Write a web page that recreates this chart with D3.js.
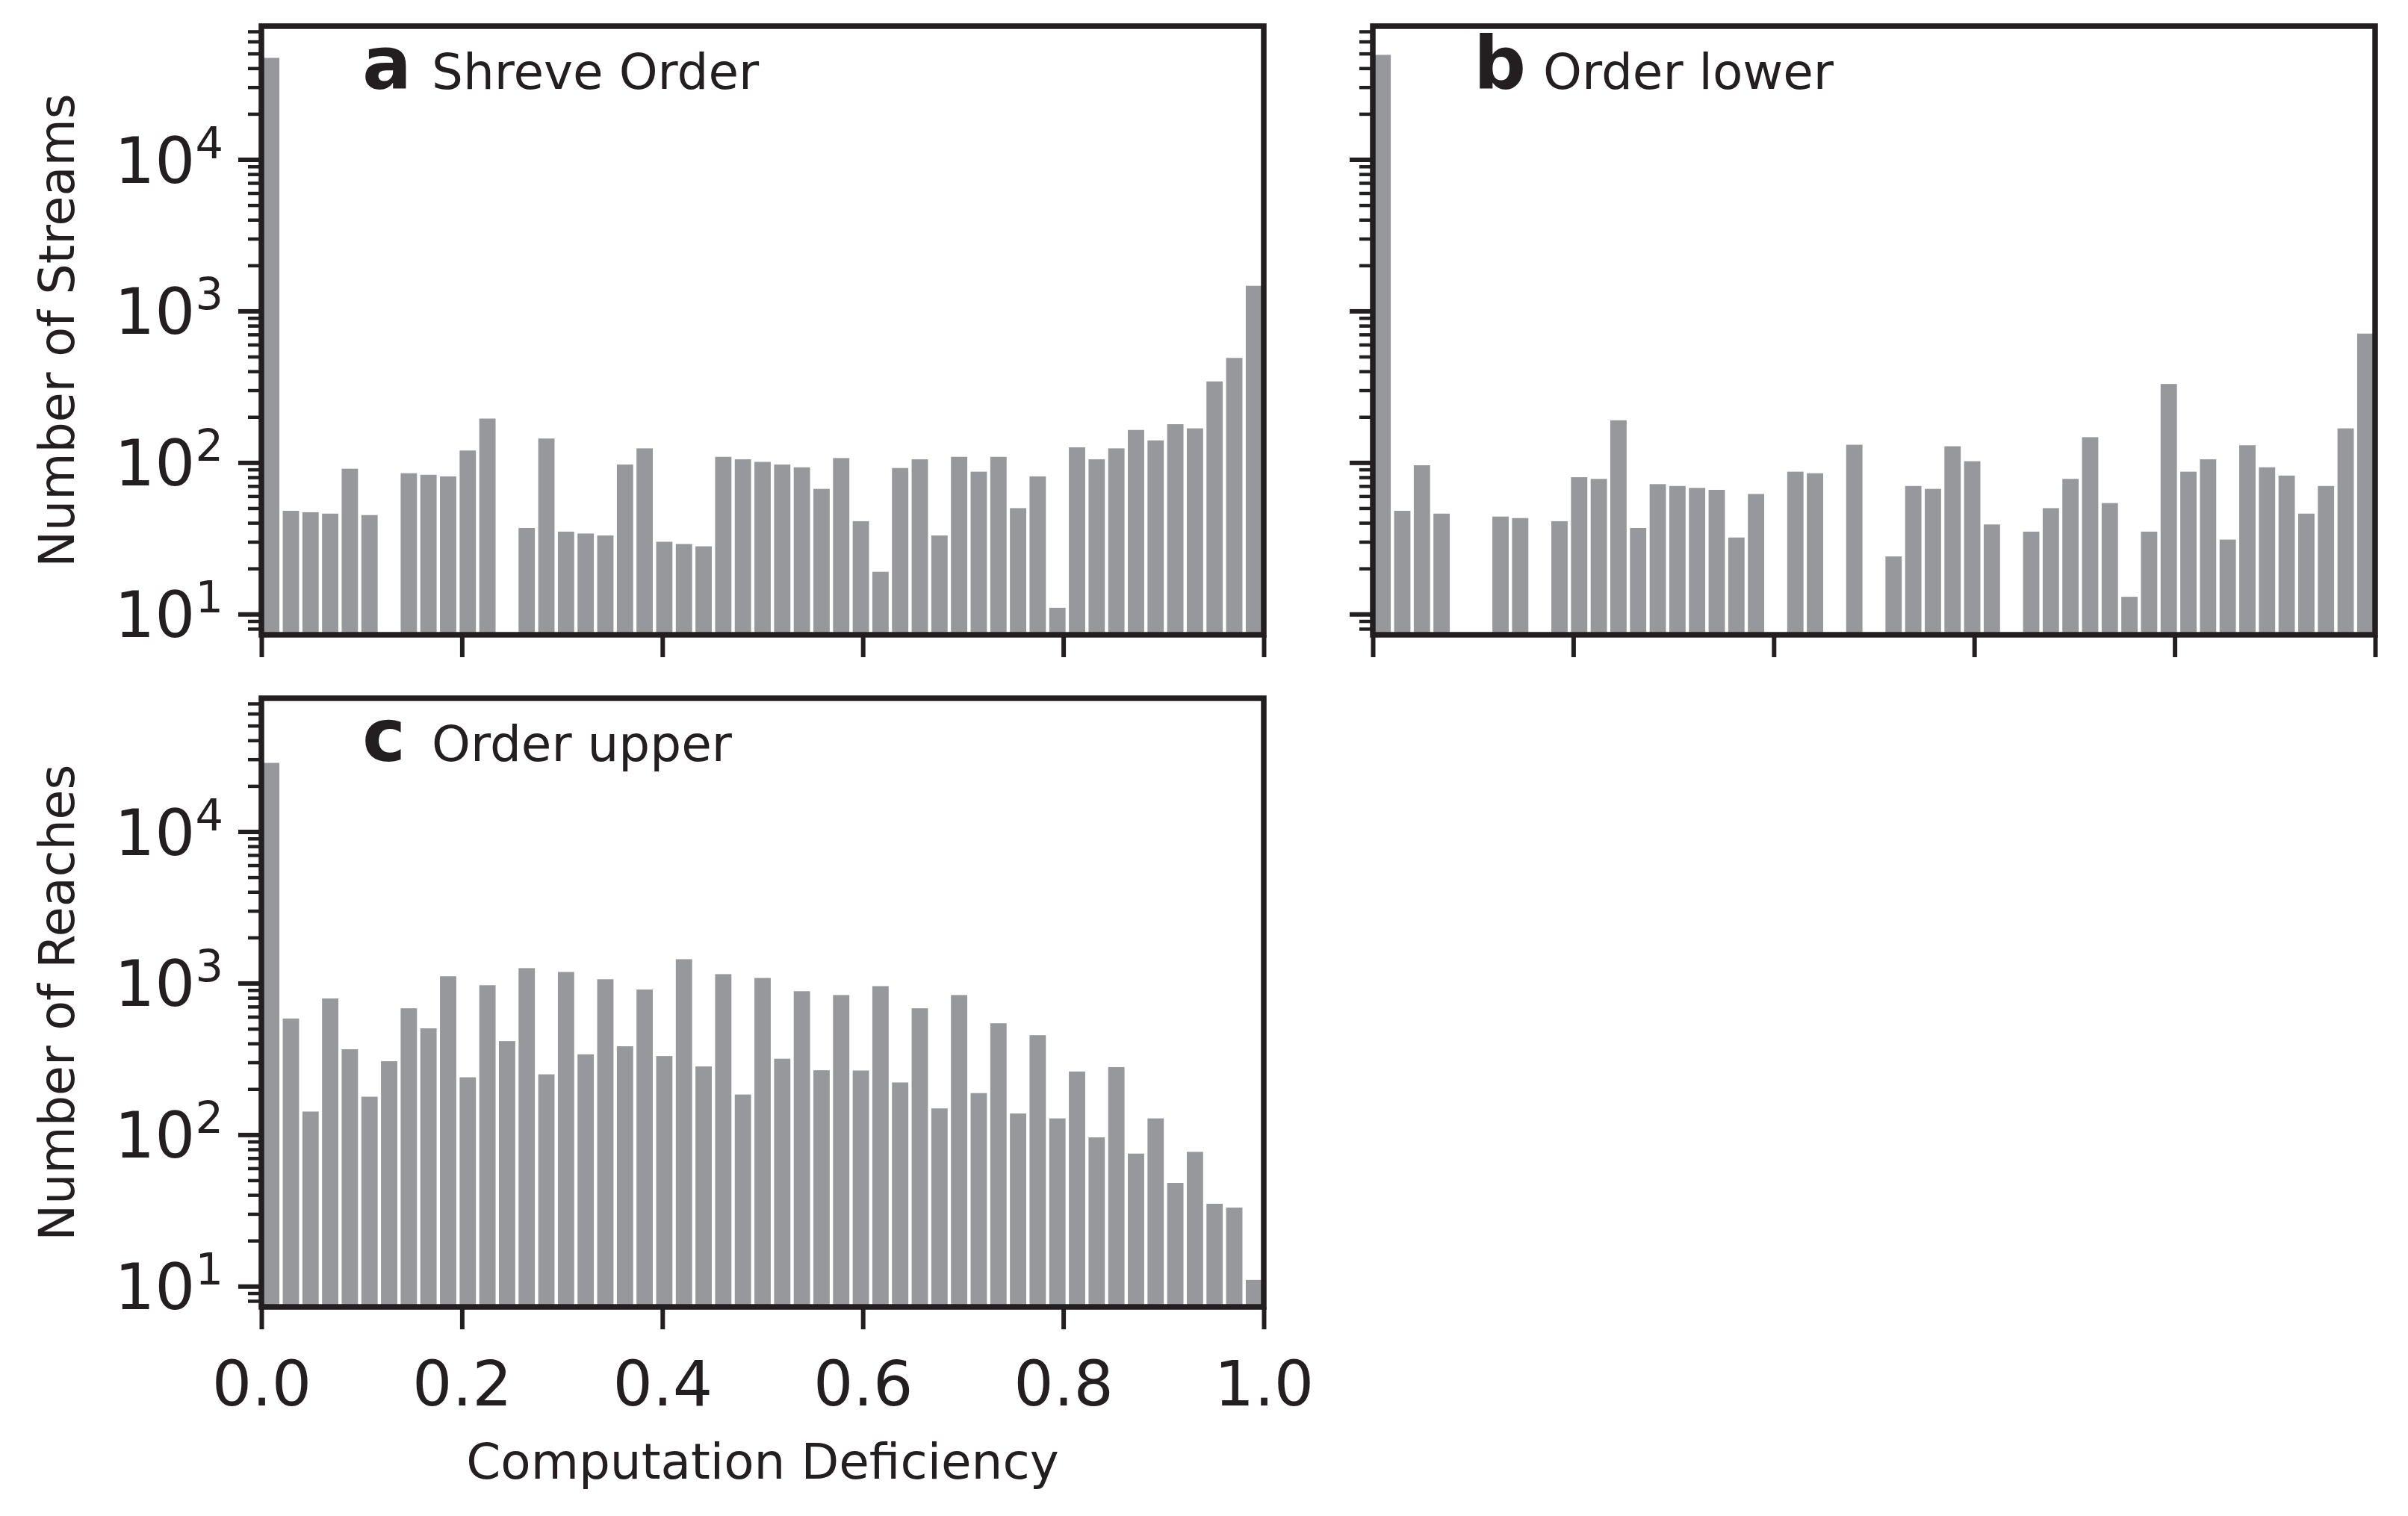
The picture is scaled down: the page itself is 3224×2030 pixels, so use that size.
<!DOCTYPE html>
<html>
<head>
<meta charset="utf-8">
<script src="https://cdn.jsdelivr.net/npm/d3@7"></script>
<style>
  body { margin: 0; background: #fff; }
  text { font-family: "DejaVu Sans", sans-serif; fill: #231f20; }
</style>
</head>
<body>
<div id="chart"></div>
<script>
// histogram counts, 51 equal bins over [0, 1]
const shreveCounts = [46800, 48, 47, 46, 91, 45, 0, 85, 83, 81, 120, 195, 0, 37, 144, 35, 34, 33, 97, 124,
  30, 29, 28, 109, 105, 101, 97, 93, 67, 107, 41, 19, 92, 105, 33, 109, 87, 109, 50, 81,
  11, 126, 105, 124, 164, 140, 179, 168, 343, 490, 1466];
const lowerCounts = [49000, 48, 96, 46, 0, 0, 44, 43, 0, 41, 80, 78, 190, 37, 72, 70, 68, 66, 32, 62,
  0, 87, 85, 0, 131, 0, 24, 70, 67, 128, 102, 39, 0, 35, 50, 78, 147, 54, 13, 35,
  330, 87, 105, 31, 130, 93, 82, 46, 70, 168, 709];
const upperCounts = [28400, 584, 142, 792, 366, 178, 305, 682, 503, 1110, 239, 968, 414, 1255, 250, 1184, 339, 1060, 383, 907,
  330, 1438, 282, 1146, 184, 1081, 317, 884, 266, 834, 265, 955, 221, 682, 149, 834, 188, 543, 138, 453,
  128, 261, 96, 279, 75, 128, 48, 77, 35, 33, 11];

const xTicks = [0, 0.2, 0.4, 0.6, 0.8, 1.0];
const xTickLabels = ["0.0", "0.2", "0.4", "0.6", "0.8", "1.0"];
const yTicks = [10, 100, 1000, 10000];
const yExponents = ["1", "2", "3", "4"];
const nBins = 51;

const W = 3224, H = 2030;
const pw = 1342, ph = 815;
const ink = "#231f20", barColor = "#97989c";

const panels = [
  { letter: "a", title: "Shreve Order", counts: shreveCounts, ylabel: "Number of Streams", left: 350, top: 35, yLabels: true, xLabels: false },
  { letter: "b", title: "Order lower", counts: lowerCounts, ylabel: null, left: 1838, top: 35, yLabels: false, xLabels: false },
  { letter: "c", title: "Order upper", counts: upperCounts, ylabel: "Number of Reaches", left: 350, top: 935, yLabels: true, xLabels: true }
];

const svg = d3.select("#chart").append("svg")
  .attr("width", W)
  .attr("height", H);

const x = d3.scaleLinear().domain([0, 1]).range([0, pw]);
const y = d3.scaleLog().domain([7.3, 75800]).range([ph, 0]);

// minor ticks 2..9 x 10^k inside the domain
const minorTicks = [];
for (let k = 0; k <= 4; k++) {
  for (let m = 2; m <= 9; m++) {
    const v = m * Math.pow(10, k);
    if (v >= y.domain()[0] && v <= y.domain()[1]) minorTicks.push(v);
  }
}

const bw = x(1 / nBins) - x(0);
const rw = 0.83;

panels.forEach(p => {
  const g = svg.append("g").attr("transform", `translate(${p.left},${p.top})`);

  g.selectAll("rect.bar")
    .data(p.counts.map((c, i) => ({ c, i })).filter(d => d.c > 0))
    .join("rect")
    .attr("class", "bar")
    .attr("x", d => x(d.i / nBins) + (1 - rw) / 2 * bw)
    .attr("width", rw * bw)
    .attr("y", d => y(d.c))
    .attr("height", d => ph - y(d.c))
    .attr("fill", barColor);

  // y axis major + minor ticks
  const yMajor = g.append("g")
    .call(d3.axisLeft(y).tickValues(yTicks).tickSize(31).tickSizeOuter(0).tickFormat(() => ""));
  yMajor.selectAll("line").attr("stroke", ink).attr("stroke-width", 6);
  yMajor.select(".domain").remove();

  const yMinor = g.append("g")
    .call(d3.axisLeft(y).tickValues(minorTicks).tickSize(18).tickSizeOuter(0).tickFormat(() => ""));
  yMinor.selectAll("line").attr("stroke", ink).attr("stroke-width", 4.5);
  yMinor.select(".domain").remove();

  if (p.yLabels) {
    yTicks.forEach((t, i) => {
      const tx = g.append("text")
        .attr("x", -51)
        .attr("y", y(t) + 31)
        .attr("text-anchor", "end")
        .style("font-size", "85px")
        .text("10");
      tx.append("tspan")
        .attr("dy", -33)
        .style("font-size", "59px")
        .text(yExponents[i]);
    });
  }

  // x axis ticks
  const xa = g.append("g")
    .attr("transform", `translate(0,${ph})`)
    .call(d3.axisBottom(x).tickValues(xTicks).tickSize(30).tickSizeOuter(0)
      .tickPadding(42).tickFormat((d, i) => p.xLabels ? xTickLabels[i] : ""));
  xa.selectAll("line").attr("stroke", ink).attr("stroke-width", 6);
  xa.select(".domain").remove();
  xa.selectAll("text").style("font-size", "84px").attr("fill", ink);

  // frame
  g.append("rect")
    .attr("x", 0).attr("y", 0)
    .attr("width", pw).attr("height", ph)
    .attr("fill", "none")
    .attr("stroke", ink)
    .attr("stroke-width", 7.5);

  // panel label
  g.append("text")
    .attr("x", 135).attr("y", 84)
    .style("font-size", "98px").style("font-weight", "bold")
    .text(p.letter);
  g.append("text")
    .attr("x", 228).attr("y", 84)
    .style("font-size", "66px")
    .text(p.title);

  if (p.ylabel) {
    svg.append("text")
      .attr("transform", `translate(99,${p.top + ph / 2}) rotate(-90)`)
      .attr("text-anchor", "middle")
      .style("font-size", "65px")
      .text(p.ylabel);
  }
});

svg.append("text")
  .attr("x", 350 + pw / 2)
  .attr("y", 1980)
  .attr("text-anchor", "middle")
  .style("font-size", "66px")
  .text("Computation Deficiency");
</script>
</body>
</html>
